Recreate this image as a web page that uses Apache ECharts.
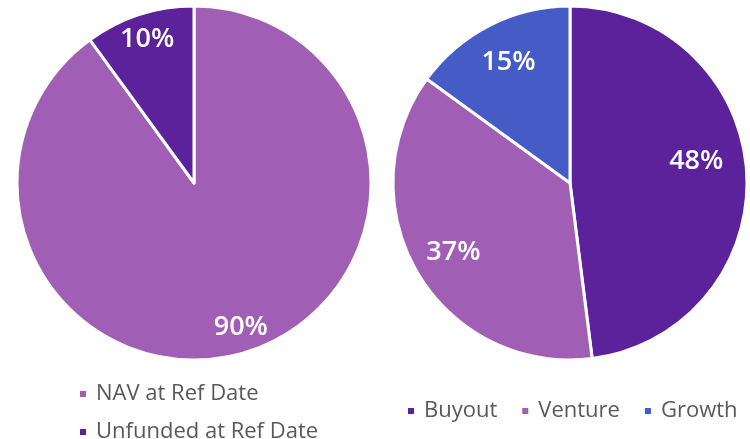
<!DOCTYPE html>
<html lang="en">
<head>
    <meta charset="UTF-8">
    <title>Allocation pies</title>
    <script src="https://cdn.jsdelivr.net/npm/echarts@6/dist/echarts.min.js"></script>
    <style>
        html, body { margin: 0; padding: 0; background: #fff; }
        #chart-container { width: 750px; height: 439px; }
    </style>
</head>
<body>
    <div id="chart-container"></div>
    <script>
        var leftNames = ['NAV at Ref Date', 'Unfunded at Ref Date'];
        var leftValues = [90, 10];
        var rightNames = ['Buyout', 'Venture', 'Growth'];
        var rightValues = [48, 37, 15];

        var colors = {
            'NAV at Ref Date': '#a05eb5',
            'Unfunded at Ref Date': '#5b229b',
            'Buyout': '#5b229b',
            'Venture': '#a05eb5',
            'Growth': '#455cc7'
        };

        function pieData(names, values) {
            return names.map(function (n, i) {
                return { name: n, value: values[i], itemStyle: { color: colors[n] } };
            });
        }

        // transparent copy of a pie, only used to put the labels further out
        function labelRing(names, values, center, radius, nudge) {
            return {
                type: 'pie',
                center: center,
                radius: radius,
                silent: true,
                startAngle: 90,
                itemStyle: { color: 'rgba(0,0,0,0)', borderWidth: 0 },
                label: {
                    show: true,
                    position: 'inside',
                    formatter: '{c}%',
                    color: '#fff',
                    fontFamily: 'Open Sans',
                    fontWeight: 600,
                    fontSize: 27
                },
                labelLine: { show: false },
                emphasis: { disabled: true },
                data: names.map(function (n, i) {
                    var d = { name: n, value: values[i] };
                    if (nudge && nudge[n]) d.label = { offset: nudge[n] };
                    return d;
                })
            };
        }

        var chart = echarts.init(document.getElementById('chart-container'));
        var legendText = { fontFamily: 'Open Sans', fontSize: 22, color: '#595959', padding: [0, 0, 0, 4] };
        function legendItem(names, left, top, gap) {
            return {
                data: names,
                orient: 'horizontal',
                left: left,
                top: top,
                padding: 0,
                itemWidth: 8,
                itemHeight: 8,
                itemGap: gap,
                icon: 'rect',
                textStyle: legendText
            };
        }
        var option = {
            animation: false,
            legend: [
                legendItem([leftNames[0]], 78, 383, 10),
                legendItem([leftNames[1]], 78, 421, 10),
                legendItem(rightNames, 406, 400, 23)
            ],
            series: [{
                type: 'pie',
                center: [194, 183],
                radius: ['0', 177],
                startAngle: 90,
                itemStyle: { borderColor: '#fff', borderWidth: 3 },
                label: { show: false },
                labelLine: { show: false },
                emphasis: { disabled: true },
                data: pieData(leftNames, leftValues)
            }, {
                type: 'pie',
                center: [570, 183],
                radius: ['0', 177],
                startAngle: 90,
                itemStyle: { borderColor: '#fff', borderWidth: 3 },
                label: { show: false },
                labelLine: { show: false },
                emphasis: { disabled: true },
                data: pieData(rightNames, rightValues)
            },
                labelRing(leftNames, leftValues, [194, 183], [122, 175]),
                labelRing(rightNames, rightValues, [570, 183], [90, 175], { 'Buyout': [-9, -13] })
            ]
        };
        chart.setOption(option);
    </script>
</body>
</html>
